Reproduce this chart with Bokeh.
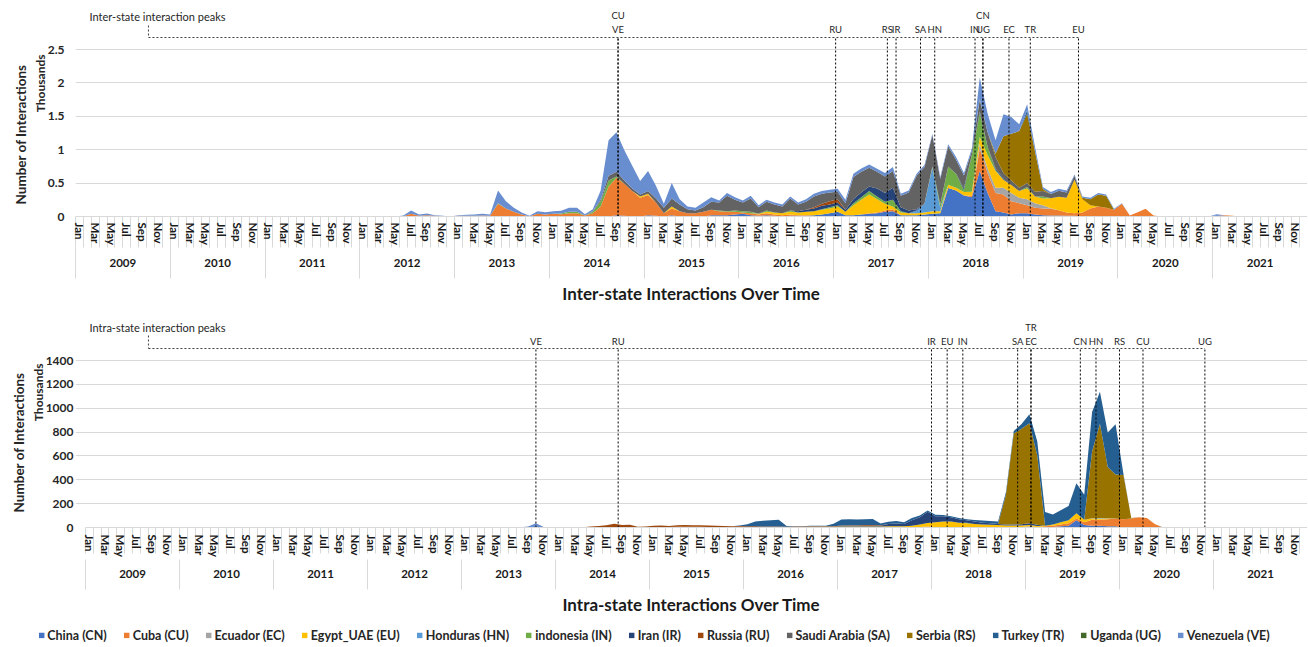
import numpy as np
from bokeh.plotting import figure
from bokeh.layouts import column
from bokeh.models import (ColumnDataSource, Range1d, LinearAxis, FixedTicker, Grid,
                          Legend, LegendItem)
from bokeh.core.properties import value
from bokeh.embed import file_html
from bokeh.resources import INLINE
from math import pi

FONT = "Lato"
N = 156
YEARS = [str(y) for y in range(2009, 2022)]
MONTHS = ["Jan", "Feb", "Mar", "Apr", "May", "Jun", "Jul", "Aug", "Sep", "Oct", "Nov", "Dec"]

codes = ["CN", "CU", "EC", "EU", "HN", "IN", "IR", "RU", "SA", "RS", "TR", "UG", "VE"]
countries = ["China (CN)", "Cuba (CU)", "Ecuador (EC)", "Egypt_UAE (EU)", "Honduras (HN)",
             "indonesia (IN)", "Iran (IR)", "Russia (RU)", "Saudi Arabia (SA)", "Serbia (RS)",
             "Turkey (TR)", "Uganda (UG)", "Venezuela (VE)"]
colors = ["#4472C4", "#ED7D31", "#A5A5A5", "#FFC000", "#5B9BD5", "#70AD47", "#264478",
          "#9E480E", "#636363", "#997300", "#255E91", "#43682B", "#698ED0"]

# ---------------- Inter-state (thousands), (first month, monthly values) ----------------
inter_CN = ("2014-09", [.02, .01, 0, 0, .02, .01, 0, .02, 0, 0, 0, 0, .02, .02, .02, .03,
                        .04, .02, .01, .02, .01, 0, .01, .01, .01, .02, .03, .05,
                        .07, .02, .02, .03, .04, .05, .07, .08, .02, .02, .02, .03,
                        .04, .05, .425, .39, .315, .29, .68, .35, .08, .06, .03, .05,
                        .05, .03, .02, .015, .015, .01, .01, 0, 0, 0, 0, 0,
                        0, 0, 0, 0, 0, 0, 0, 0, 0, 0, 0, 0,
                        .02, .01])
inter_CU = ("2012-06", [.005, .04, .01, .02, .01, .005, 0,
                        .01, .01, .01, .015, .01, .19, .12, .07, .03, .005, .04, .03,
                        .04, .035, .05, .05, .015, .05, .15, .45, .56, .48, .38, .28,
                        .3, .2, .05, .1, .08, .05, .05, .07, .08, .06, .05, .04,
                        .02, .03, .02, .03, .02, .02, .02, .01, .01, 0, 0, 0,
                        0, 0, 0, 0, .01, .01, .02, .03, 0, 0, 0, 0,
                        0, 0, 0, 0, 0, .02, .34, .3, .27, .27, .2, .15,
                        .12, .1, .1, .1, .08, .05, .04, .06, .12, .15, .13, .1,
                        .19, .015, .065, .115, .015, 0, 0, 0, 0, 0, 0, 0,
                        0, .01, .01])
inter_EC = ("2018-07", [.07, .07, .08, .1, .12, .08, .09, .07, .05, .01])
inter_EU = ("2014-12", [.02,
                        .02, 0, 0, .03, 0, 0, 0, 0, 0, 0, 0, 0,
                        0, 0, .01, .02, .03, .03, .04, .04, .05, .06, .07, .07,
                        .08, .05, .15, .22, .28, .2, .1, .04, .04, .03, .03, .03,
                        .04, .03, .05, .04, .05, .06, .1, .2, .25, .12, .12, .1,
                        .16, .1, .1, .15, .2, .22, .5, .2, .05])
inter_HN = ("2017-11", [.04, .13, .65, .05])
inter_IN = ("2013-06", [.01, 0, 0, 0, 0, 0, 0,
                        0, .01, .02, .02, 0, .02, .08, .09, .02, 0, 0, 0,
                        0, 0, 0, 0, 0, 0, 0, 0, 0, .01, .01, .02,
                        .02, .02, 0, .02, 0, 0, .02, 0, 0, 0, .01, .02,
                        .02, 0, .03, .04, .05, .04, .03, .1, .02, 0, 0, 0,
                        .02, .05, .275, .21, .03, .55, .36, .12, .02, 0, 0, 0,
                        .02, 0, .03])
inter_IR = ("2016-08", [.02, .03, .04, .05, .04,
                        .04, .03, .06, .07, .07, .12, .13, .18, .06, .04, .02, 0,
                        0, 0, 0, 0, .03, 0, .02, 0, .02, .02])
inter_RU = ("2016-10", [.02, .03, .05, .05])
inter_SA = ("2014-06", [.01, .02, .07, .07, .05, .04, .03,
                        .04, .06, .08, .12, .1, .06, .04, .07, .12, .12, .23, .16,
                        .13, .2, .1, .13, .12, .1, .18, .1, .12, .16, .15, .13,
                        .11, .1, .33, .31, .28, .25, .25, .25, .17, .27, .5, .55,
                        .47, .38, .3, .21, .19, .06, .17, .22, .17, .08, .07, .05,
                        .06, .07, .08, .06, .09, .08, .06])
inter_RS = ("2018-09", [.05, .55, .7, .85, 1.04, .6, .03, 0, 0, 0, 0, .02, .09, .18, .18])
inter_TR = ("2019-01", [.05])
inter_UG = ("2018-07", [.02])
inter_VE = ("2012-06", [.01, .05, .02, .025, .01, .005, 0,
                        .01, .015, .02, .025, .02, .19, .11, .06, .03, .005, .04, .035,
                        .04, .04, .06, .06, .02, .03, .14, .53, .59, .45, .34, .2,
                        .3, .19, .06, .23, .08, .04, .04, .07, .07, .03, .04, .04,
                        .03, .04, .03, .03, .03, .03, .03, .03, .04, .04, .04, .04,
                        .045, .05, .05, .05, .05, .045, .05, .06, .03, .03, .03, .03,
                        .02, .03, .03, .04, .035, .04, .32, .28, .2, .33, .25, .1,
                        .09, .07, .03, .03, .03, .03, .02, .02, .02, .02, .02, .015,
                        .01, 0, 0, 0, 0, 0, 0, 0, 0, 0, 0, 0,
                        .015])

# ---------------- Intra-state (thousands) ----------------
intra_CN = ("2017-12", [3, 0, 0, 0, 0, 0, 0, 0, 0, 0, 0, 0, 0, 0, 0,
                        5, 5, 10, 15, 60, 20, 15, 15, 10, 10])
intra_CU = ("2014-05", [2, 3, 3, 4, 4, 3, 2, 3,
                        5, 5, 5, 6, 6, 6, 6, 5, 5, 5, 4, 6,
                        5, 5, 5, 5, 5, 4, 4, 4, 4, 4, 4, 4,
                        4, 4, 4, 4, 4, 4, 4, 4, 4, 5, 5, 5,
                        5, 5, 5, 5, 5, 5, 5, 5, 5, 5, 5, 5,
                        5, 5, 5, 10, 15, 20, 15, 25, 50, 50, 60, 65,
                        70, 75, 85, 80, 30])
intra_EC = ("2019-01", [5])
intra_EU = ("2016-09", [2, 2, 2, 3,
                        4, 4, 4, 5, 5, 5, 6, 6, 6, 10, 20, 30,
                        40, 45, 45, 35, 30, 25, 20, 18, 15, 12, 12, 12,
                        10, 8, 5, 10, 20, 25, 45, 20, 10, 10, 5])
intra_HN = ("2019-09", [3, 5, 2])
intra_IN = ("2018-05", [5])
intra_IR = ("2017-01", [5, 6, 6, 6, 6, 6, 20, 24, 20, 45, 60, 95,
                        50, 45, 35, 30, 20, 20, 15, 12, 10, 8, 8, 10, 15, 10])
intra_RU = ("2014-04", [3, 6, 10, 15, 28, 18, 20, 4, 6,
                        10, 12, 8, 12, 14, 12, 13, 12, 10, 8, 6, 6,
                        5, 5, 4, 4, 4, 3, 4, 4, 4, 4, 4, 4,
                        4, 5, 5, 5, 5, 4])
intra_SA = ("2018-11", [3])
intra_RS = ("2018-10", [250, 760, 800, 840, 580, 0, 0, 0, 0, 0, 0, 560, 790, 430, 370, 370, 5])
intra_TR = ("2015-12", [4,
                        18, 40, 48, 52, 55, 5, 3, 3, 4, 4, 5, 20,
                        50, 50, 48, 50, 52, 15, 18, 20, 15, 20, 15, 10,
                        12, 10, 10, 10, 10, 12, 18, 20, 20, 20, 20, 40,
                        75, 120, 115, 85, 100, 120, 250, 210, 330, 268, 290, 420, 10])
intra_UG = ("2020-06", [3, 3, 3, 3, 3, 3, 3, 3, 3])
intra_VE = ("2013-03", [3, 3, 2, 4, 4, 3, 8, 35, 5, 0, 3, 3, 2])

# axis ticks
inter_yticks = [0, 0.5, 1, 1.5, 2, 2.5]
inter_ytick_labels = ["0", "0.5", "1", "1.5", "2", "2.5"]
intra_yticks = [0, 200, 400, 600, 800, 1000, 1200, 1400]
intra_ytick_labels = ["0", "200", "400", "600", "800", "1000", "1200", "1400"]

# peak markers (month index, 0 = Jan 2009) and label row
inter_ev_labels = ["CU", "VE", "RU", "RS", "IR", "SA", "HN", "IN", "UG", "CN", "EC", "TR", "EU"]
inter_ev_pos = [68.2, 68.2, 95.75, 102.3, 103.4, 106.5, 108.3, 113.4, 114.4, 114.4, 117.7, 120.4, 126.5]
inter_ev_row = [1, 0, 0, 0, 0, 0, 0, 0, 0, 1, 0, 0, 0]
intra_ev_labels = ["VE", "RU", "IR", "EU", "IN", "SA", "TR", "EC", "CN", "HN", "RS", "CU", "UG"]
intra_ev_pos = [57.0, 67.5, 107.5, 109.5, 111.5, 118.5, 120.2, 120.2, 126.5, 128.5, 131.5, 134.5, 142.4]
intra_ev_row = [0, 0, 0, 0, 0, 0, 1, 0, 0, 0, 0, 0, 0]


def mindex(ym):
    y, m = ym.split("-")
    return (int(y) - 2009) * 12 + int(m) - 1


def expand(spec):
    start, vals = spec
    out = np.zeros(N)
    s = mindex(start)
    out[s:s + len(vals)] = vals
    return out.tolist()


inter_series = [inter_CN, inter_CU, inter_EC, inter_EU, inter_HN, inter_IN, inter_IR,
                inter_RU, inter_SA, inter_RS, inter_TR, inter_UG, inter_VE]
intra_series = [intra_CN, intra_CU, intra_EC, intra_EU, intra_HN, intra_IN, intra_IR,
                intra_RU, intra_SA, intra_RS, intra_TR, intra_UG, intra_VE]

TXT = "#262626"
W = 1307
LEFT = 74


def text_axis(tick, label, size, standoff):
    t = round(tick, 3)
    return LinearAxis(ticker=FixedTicker(ticks=[t]), major_label_overrides={t: label},
                      major_label_orientation=pi / 2, axis_line_color=None,
                      major_tick_line_color=None, minor_tick_line_color=None,
                      major_tick_out=0, major_tick_in=0, major_label_standoff=standoff,
                      major_label_text_font=FONT, major_label_text_font_size=size,
                      major_label_text_font_style="bold", major_label_text_color=TXT)


def make_chart(series, yticks, ytlabels, x_start, y_end, height, top, bottom,
               mtick, mstand, ytick, ystand, title, tstand, lstand, thou_y, thou_so, num_y, num_so,
               note, note_x, note_y, br_x, br_top, br_y, ev_lab, ev_pos, ev_row, row_y):
    p = figure(width=W, height=height, x_range=Range1d(x_start, N - 0.5), y_range=Range1d(0, y_end),
               x_axis_location=None, y_axis_location=None, toolbar_location=None,
               output_backend="svg", min_border_left=LEFT, min_border_right=0,
               min_border_top=top, min_border_bottom=bottom, outline_line_color=None,
               background_fill_color="white", border_fill_color="white")
    p.xgrid.grid_line_color = None
    p.ygrid.grid_line_color = None
    p.add_layout(Grid(dimension=1, ticker=FixedTicker(ticks=yticks),
                      grid_line_color="#D9D9D9", grid_line_width=1))
    data = {"x": list(range(N))}
    for c, s in zip(codes, series):
        data[c] = expand(s)
    src = ColumnDataSource(data)
    rs = p.varea_stack(stackers=codes, x="x", color=colors, source=src)

    # y axis (ticks), then "Thousands", then "Number of Interactions"
    ya = LinearAxis(ticker=FixedTicker(ticks=yticks), bounds=(yticks[0], yticks[-1]),
                    major_label_overrides={t: l for t, l in zip(yticks, ytlabels)},
                    axis_line_color=None, major_tick_line_color=None, minor_tick_line_color=None,
                    major_tick_out=0, major_label_standoff=lstand,
                    major_label_text_font=FONT, major_label_text_font_size="12px",
                    major_label_text_font_style="bold", major_label_text_color=TXT)
    p.add_layout(ya, "left")
    p.add_layout(text_axis(thou_y, "Thousands", "12px", thou_so), "left")
    p.add_layout(text_axis(num_y, "Number of Interactions", "13.5px", num_so), "left")

    # month axis
    mt = list(range(0, N, 2))
    ma = LinearAxis(ticker=FixedTicker(ticks=mt, minor_ticks=[k - 0.5 for k in range(N + 1)]),
                    bounds=(-0.5, N - 0.5),
                    major_label_overrides={i: MONTHS[i % 12] for i in mt},
                    major_label_orientation="vertical",
                    axis_line_color="#D9D9D9", major_tick_line_color=None,
                    minor_tick_line_color="#D9D9D9", minor_tick_out=mtick, minor_tick_in=0,
                    major_tick_out=0, major_tick_in=0, major_label_standoff=mstand,
                    major_label_text_font=FONT, major_label_text_font_size="11.5px",
                    major_label_text_font_style="bold", major_label_text_color="#1a1a1a")
    p.add_layout(ma, "below")
    yc = [12 * k + 5.5 for k in range(len(YEARS))]
    yax = LinearAxis(ticker=FixedTicker(ticks=yc, minor_ticks=[12 * k - 0.5 for k in range(len(YEARS) + 1)]),
                     bounds=(-0.5, N - 0.5),
                     major_label_overrides={t: y for t, y in zip(yc, YEARS)},
                     axis_line_color=None, major_tick_line_color=None,
                     minor_tick_line_color="#D9D9D9", minor_tick_out=ytick, minor_tick_in=0,
                     major_tick_out=0, major_tick_in=0, major_label_standoff=ystand,
                     major_label_text_font=FONT, major_label_text_font_size="11.5px",
                     major_label_text_font_style="bold", major_label_text_color="#1a1a1a",
                     axis_label=title, axis_label_standoff=tstand,
                     axis_label_text_font=FONT, axis_label_text_font_size="17px",
                     axis_label_text_font_style="bold", axis_label_text_color="#1a1a1a")
    p.add_layout(yax, "below")

    # bracket and peak lines
    p.text(x=[note_x], y=[note_y], text=[note], text_font=value(FONT), text_font_size="11px",
           text_align="left", text_baseline="middle", text_color=TXT)
    last = max(ev_pos)
    p.segment(x0=[br_x, br_x], y0=[br_top, br_y], x1=[br_x, last], y1=[br_y, br_y],
              line_dash="2 2", line_color="#404040", line_width=1)
    n = len(ev_pos)
    p.segment(x0=ev_pos, y0=[0] * n, x1=ev_pos, y1=[br_y] * n,
              line_dash="2 2", line_color="#000000", line_width=1)
    p.text(x=ev_pos, y=[row_y[r] for r in ev_row], text=ev_lab, text_font=value(FONT),
           text_font_size="9.5px", text_align="center", text_baseline="middle", text_color=TXT)
    return p, rs, src


# top chart: frame y 8..216 (0 at 216, 2.5 at 49); x 74..1307
s1 = 66.8
m1 = (W - LEFT) / N
p1, r1, src1 = make_chart(inter_series, inter_yticks, inter_ytick_labels, -0.5, 208 / s1, 316, 8, 100,
                          31, -25, 31, -20, "Inter-state Interactions Over Time", 13, 11,
                          (216 - 54) / s1, 4, (216 - 64) / s1, 1,
                          "Inter-state interaction peaks", (88 - LEFT) / m1 - 0.5, (216 - 16) / s1,
                          (147 - LEFT) / m1 - 0.5, (216 - 25) / s1, (216 - 37) / s1,
                          inter_ev_labels, inter_ev_pos, inter_ev_row,
                          [(216 - 29) / s1, (216 - 15) / s1])

# bottom chart: frame y 316..527 (0 at 527, 1400 at 360); data x from 84
s2 = 167 / 1400
m2 = (W - 84) / N
xs2 = -0.5 - (84 - LEFT) / m2
p2, r2, src2 = make_chart(intra_series, intra_yticks, intra_ytick_labels, xs2, 211 / s2, 306, 0, 95,
                          26, -19, 30, -20, "Intra-state Interactions Over Time", 13, 2,
                          (527 - 363) / s2, 4, (527 - 372) / s2, 1,
                          "Intra-state interaction peaks", (88 - 84) / m2 - 0.5, (527 - 327) / s2,
                          (147 - 84) / m2 - 0.5, (527 - 335) / s2, (527 - 348) / s2,
                          intra_ev_labels, intra_ev_pos, intra_ev_row,
                          [(527 - 341) / s2, (527 - 327) / s2])

# legend strip (areas of the intra-state data, kept outside the visible y-range)
p3 = figure(width=W, height=25, x_range=Range1d(0, N), y_range=Range1d(-2, -1),
            x_axis_location=None, y_axis_location=None, toolbar_location=None,
            output_backend="svg", min_border_left=0, min_border_right=0,
            min_border_top=0, min_border_bottom=0, outline_line_color=None,
            background_fill_color="white", border_fill_color="white")
p3.frame_align = False
p3.xgrid.grid_line_color = None
p3.ygrid.grid_line_color = None
leg_r = p3.varea_stack(stackers=codes, x="x", color=colors, source=src2)
legend = Legend(items=[LegendItem(label=countries[i], renderers=[leg_r[i]]) for i in range(len(codes))],
                orientation="horizontal", location="center", glyph_width=7, glyph_height=7,
                label_standoff=3, spacing=16, padding=0, margin=0, border_line_color=None,
                background_fill_alpha=0, label_text_font=FONT, label_text_font_size="12.5px",
                label_text_font_style="bold", label_text_color=TXT)
p3.add_layout(legend, "center")

layout = column(p1, p2, p3, spacing=0)
open("out.html", "w").write(file_html(layout, INLINE))
